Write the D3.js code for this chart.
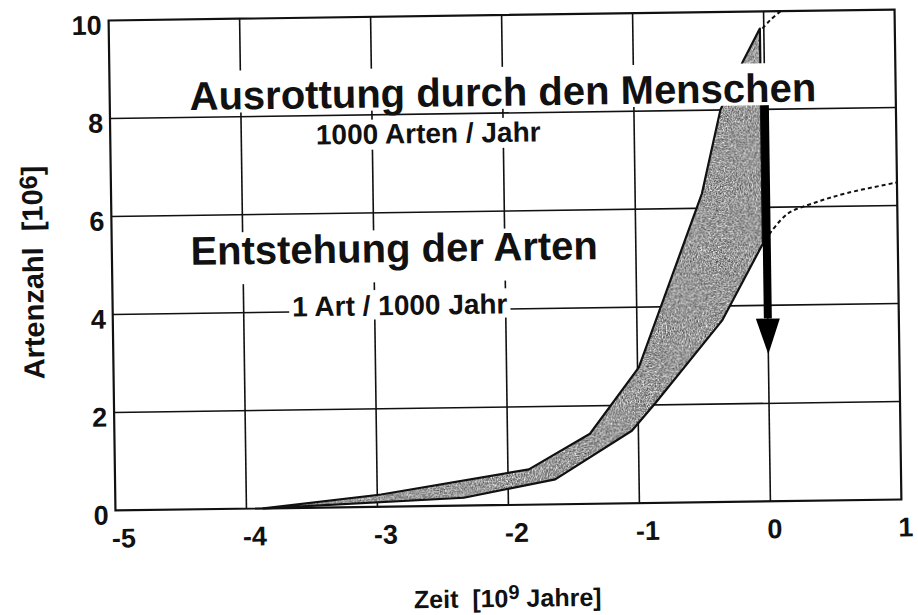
<!DOCTYPE html>
<html>
<head>
<meta charset="utf-8">
<script src="https://cdn.jsdelivr.net/npm/d3@7"></script>
<style>
  html, body { margin: 0; padding: 0; background: #fff; }
  svg { display: block; }
  text { font-family: "Liberation Sans", Arial, Helvetica, sans-serif; font-weight: bold; fill: #111; }
</style>
</head>
<body>
<svg id="chart" width="918" height="615">
  <defs>
    <filter id="speckle" x="0" y="0" width="100%" height="100%" color-interpolation-filters="sRGB">
      <feTurbulence type="fractalNoise" baseFrequency="0.75" numOctaves="2" seed="5"/>
      <feColorMatrix type="matrix" values="0.7 0.7 0.7 0 -0.55  0.7 0.7 0.7 0 -0.55  0.7 0.7 0.7 0 -0.55  0 0 0 0 1"/>
      <feComponentTransfer>
        <feFuncR type="discrete" tableValues="0.3 0.5 0.72 0.95"/>
        <feFuncG type="discrete" tableValues="0.3 0.5 0.72 0.95"/>
        <feFuncB type="discrete" tableValues="0.3 0.5 0.72 0.95"/>
      </feComponentTransfer>
      <feComposite in2="SourceGraphic" operator="in"/>
    </filter>
  </defs>
</svg>
<script>
// ---------- data ----------
const xTicks = [-5, -4, -3, -2, -1, 0, 1];
const xTickLabels = ["-5", "-4", "-3", "-2", "-1", "0", "1"];
const yTicks = [0, 2, 4, 6, 8, 10];
const yTickLabels = ["0", "2", "4", "6", "8", "10"];

// shaded band (species count range), upper edge then lower edge
const bandUpperX = [-3.87, -2.97, -1.84, -1.37, -0.99, -0.49, -0.34, -0.16, -0.03];
const bandUpperY = [0.00, 0.25, 0.72, 1.43, 2.77, 6.30, 8.00, 9.00, 9.65];
const bandLowerX = [-0.03, -0.03, -0.35, -0.87, -1.05, -1.64, -2.34, -3.87];
const bandLowerY = [9.65, 5.26, 3.70, 2.03, 1.48, 0.51, 0.16, 0.00];

// dashed projections
const dashTopX = [-0.01, 0.05, 0.13];
const dashTopY = [9.65, 9.82, 10.0];
const dashMidX = [0.02, 0.16, 0.37, 0.62, 1.0];
const dashMidY = [5.45, 5.86, 6.08, 6.27, 6.47];

// extinction arrow (x, from, head start, tip)
const arrowX = 0;
const arrowFrom = 8.3;
const arrowHeadTop = 3.73;
const arrowTip = 3.0;

// annotations
const annoText = ["Ausrottung durch den Menschen", "1000 Arten / Jahr", "Entstehung der Arten", "1 Art / 1000 Jahr"];
const annoX = [-4.39, -3.43, -4.40, -3.63];
const annoY = [8.15, 7.41, 4.99, 3.91];

const xTitle = ["Zeit  [10", "9", " Jahre]"];
const yTitle = ["Artenzahl  [10", "6", "]"];

// ---------- layout ----------
const svg = d3.select("#chart");
const L = 112, R = 898, T = 15, B = 505;
const x = d3.scaleLinear().domain([-5, 1]).range([L, R]);
const y = d3.scaleLinear().domain([0, 10]).range([B, T]);

const g = svg.append("g").attr("transform", "rotate(-0.8, 505, 260)");

// grid
const grid = g.append("g").attr("stroke", "#111").attr("stroke-width", 1.6);
grid.selectAll("line.v").data(xTicks.slice(1, -1)).join("line")
  .attr("x1", d => x(d)).attr("x2", d => x(d)).attr("y1", y(10)).attr("y2", y(0));
grid.selectAll("line.h").data(yTicks.slice(1, -1)).join("line")
  .attr("x1", x(-5)).attr("x2", x(1)).attr("y1", d => y(d)).attr("y2", d => y(d));
g.append("rect").attr("x", x(-5)).attr("y", y(10))
  .attr("width", x(1) - x(-5)).attr("height", y(0) - y(10))
  .attr("fill", "none").attr("stroke", "#111").attr("stroke-width", 2.2);

// band
const bandPts = bandUpperX.map((v, i) => [v, bandUpperY[i]])
  .concat(bandLowerX.map((v, i) => [v, bandLowerY[i]]));
const lineGen = d3.line().x(d => x(d[0])).y(d => y(d[1]));
g.append("path").attr("d", lineGen(bandPts) + "Z")
  .attr("fill", "#9a9a9a").attr("filter", "url(#speckle)");
g.append("path").attr("d", lineGen(bandPts) + "Z")
  .attr("fill", "none").attr("stroke", "#111").attr("stroke-width", 2.2)
  .attr("stroke-linejoin", "round");

// dashed curves
const curveGen = d3.line().x(d => x(d[0])).y(d => y(d[1])).curve(d3.curveCatmullRom);
[[dashTopX, dashTopY], [dashMidX, dashMidY]].forEach(([xs, ys]) => {
  g.append("path").attr("d", curveGen(xs.map((v, i) => [v, ys[i]])))
    .attr("fill", "none").attr("stroke", "#111").attr("stroke-width", 2)
    .attr("stroke-dasharray", "4,3");
});

// arrow
g.append("line").attr("x1", x(arrowX)).attr("x2", x(arrowX))
  .attr("y1", y(arrowFrom)).attr("y2", y(arrowHeadTop))
  .attr("stroke", "#000").attr("stroke-width", 8);
g.append("path")
  .attr("d", `M${x(arrowX) - 12},${y(arrowHeadTop)} L${x(arrowX) + 12},${y(arrowHeadTop)} L${x(arrowX)},${y(arrowTip)} Z`)
  .attr("fill", "#000");

// annotations with white boxes
const annoSize = [40, 28, 40, 28];
const padTop = [0.97, 0.86, 0.80, 0.90];
const padBot = [0.08, 0.21, 0.50, 0.15];
annoText.forEach((t, i) => {
  const gg = g.append("g");
  const rect = gg.append("rect").attr("fill", "#fff");
  const tx = gg.append("text").attr("x", x(annoX[i])).attr("y", y(annoY[i]))
    .attr("font-size", annoSize[i]).text(t);
  const w = tx.node().getComputedTextLength();
  rect.attr("x", x(annoX[i]) - 3).attr("width", w + 6)
    .attr("y", y(annoY[i]) - padTop[i] * annoSize[i])
    .attr("height", (padTop[i] + padBot[i]) * annoSize[i]);
});

// tick labels
g.selectAll("text.xt").data(xTicks).join("text")
  .attr("x", d => x(d) + (d < 0 ? 8 : 4)).attr("y", B + 37)
  .attr("text-anchor", "middle").attr("font-size", 27)
  .text((d, i) => xTickLabels[i]);
g.selectAll("text.yt").data(yTicks).join("text")
  .attr("x", L - 7).attr("y", d => y(d) + 14)
  .attr("text-anchor", "end").attr("font-size", 27)
  .text((d, i) => yTickLabels[i]);

// axis titles
const xt = g.append("text").attr("x", 503).attr("y", 607).attr("text-anchor", "middle")
  .attr("font-size", 25).style("white-space", "pre");
xt.append("tspan").text(xTitle[0]);
xt.append("tspan").attr("dy", -8).attr("font-size", 20).text(xTitle[1]);
xt.append("tspan").attr("dy", 8).text(xTitle[2]);

const yt = g.append("text").attr("transform", "translate(43,266) rotate(-90)")
  .attr("text-anchor", "middle").attr("font-size", 29).style("white-space", "pre");
yt.append("tspan").text(yTitle[0]);
yt.append("tspan").attr("dy", -5).attr("font-size", 25).text(yTitle[1]);
yt.append("tspan").attr("dy", 5).text(yTitle[2]);
</script>
</body>
</html>
